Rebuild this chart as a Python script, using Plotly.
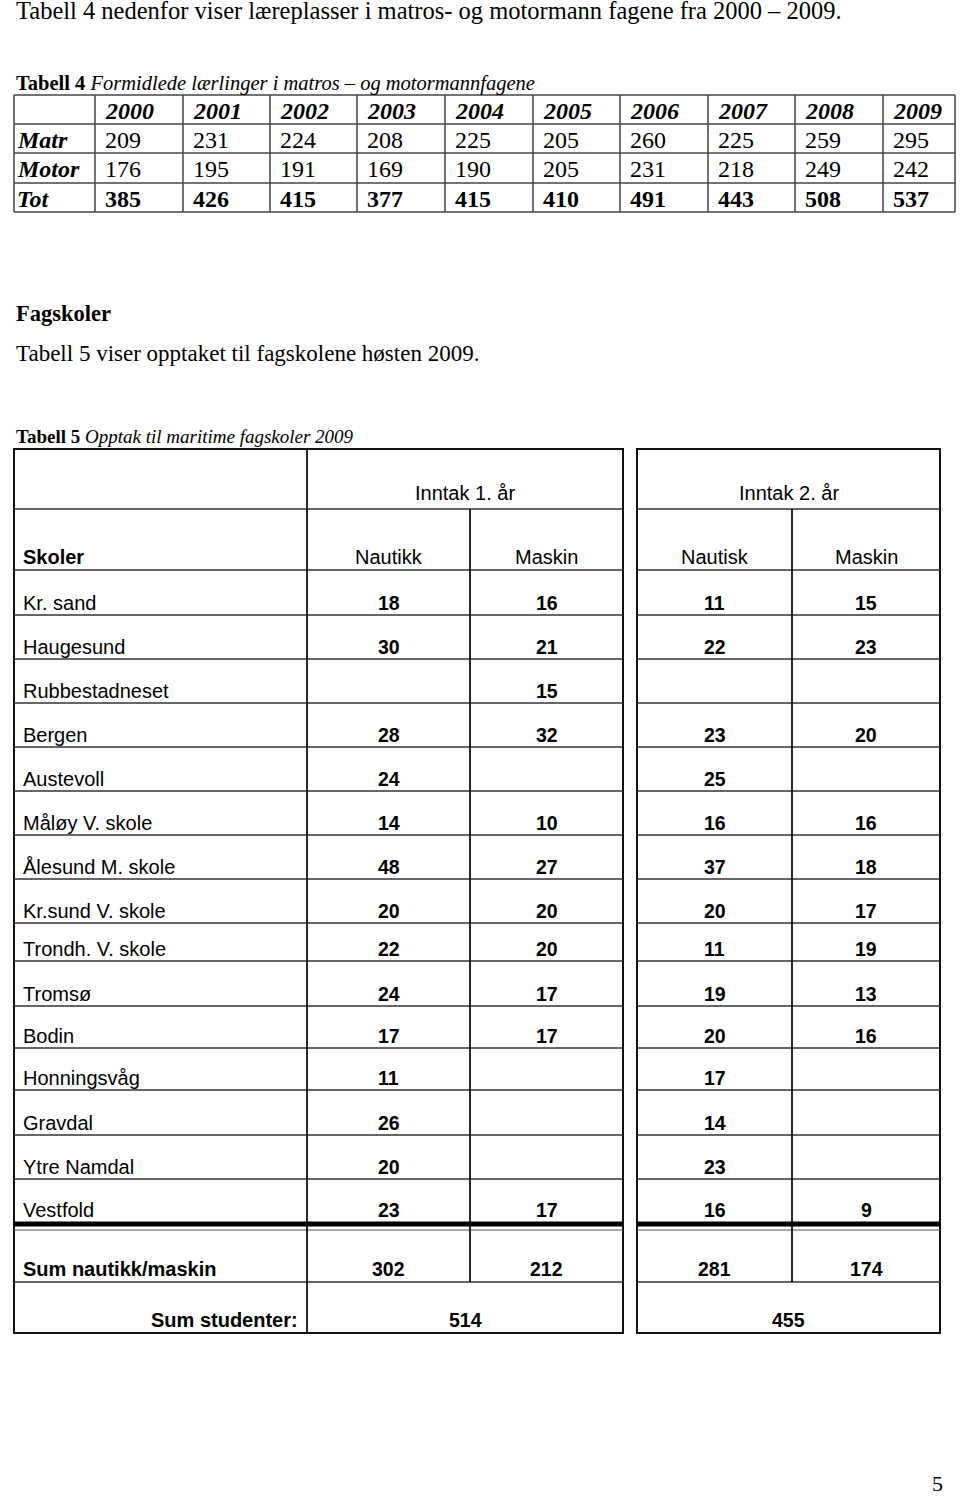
import plotly.graph_objects as go

# ---- Tabell 4: formidlede lærlinger ----
years = ["2000", "2001", "2002", "2003", "2004", "2005", "2006", "2007", "2008", "2009"]
t4_labels = ["Matr", "Motor", "Tot"]
matr = [209, 231, 224, 208, 225, 205, 260, 225, 259, 295]
motor = [176, 195, 191, 169, 190, 205, 231, 218, 249, 242]
tot = [385, 426, 415, 377, 415, 410, 491, 443, 508, 537]

# ---- Tabell 5: opptak til maritime fagskoler 2009 ----
schools = ["Kr. sand", "Haugesund", "Rubbestadneset", "Bergen", "Austevoll",
           "Måløy V. skole", "Ålesund M. skole", "Kr.sund V. skole", "Trondh. V. skole",
           "Tromsø", "Bodin", "Honningsvåg", "Gravdal", "Ytre Namdal", "Vestfold"]
nautikk_1 = [18, 30, None, 28, 24, 14, 48, 20, 22, 24, 17, 11, 26, 20, 23]
maskin_1 = [16, 21, 15, 32, None, 10, 27, 20, 20, 17, 17, None, None, None, 17]
nautisk_2 = [11, 22, None, 23, 25, 16, 37, 20, 11, 19, 20, 17, 14, 23, 16]
maskin_2 = [15, 23, None, 20, None, 16, 18, 17, 19, 13, 16, None, None, None, 9]
sum_1 = [302, 212]
sum_2 = [281, 174]
sum_students = [514, 455]

SERIF = "Liberation Serif, Times New Roman, serif"
SANS = "Liberation Sans, Arial, sans-serif"

# layout geometry (page pixels)
t4_x = [14, 95, 183, 270, 357, 445, 533, 620, 708, 795, 883, 955]
t4_y = [95, 124, 153, 183, 212]
L = [14, 307, 470, 623]          # left box columns
R = [637, 792, 940]              # right box columns
t5_top, t5_h1, t5_h2 = 449, 509, 570
body_y = [570, 615, 659, 703, 747, 791, 835, 879, 923, 961, 1006, 1048, 1090, 1135, 1179, 1224]
sum_top, sum_mid, t5_bot = 1230, 1282, 1333

shapes = []
annots = []


def line(x0, y0, x1, y1, w=1.5, c="#222"):
    shapes.append(dict(type="line", xref="x", yref="y", x0=x0, y0=y0, x1=x1, y1=y1,
                       line=dict(color=c, width=w)))


def rect(x0, y0, x1, y1, w=2, c="#111"):
    shapes.append(dict(type="rect", xref="x", yref="y", x0=x0, y0=y0, x1=x1, y1=y1,
                       line=dict(color=c, width=w), fillcolor="rgba(0,0,0,0)"))


def text(x, y, s, size, family=SERIF, anchor="left", yanchor="middle"):
    annots.append(dict(x=x, y=y, xref="x", yref="y", text=s, showarrow=False,
                       xanchor=anchor, yanchor=yanchor,
                       font=dict(size=size, family=family, color="black")))


def mid(a, b):
    return (a + b) / 2


# ---- running text ----
text(14, 10, "Tabell 4 nedenfor viser læreplasser i matros- og motormann fagene fra 2000 – 2009.", 24.5)
text(14, 83, "<b>Tabell 4</b> <i>Formidlede lærlinger i matros – og motormannfagene</i>", 20.5)
text(14, 313, "<b>Fagskoler</b>", 22.5)
text(14, 353, "Tabell 5 viser opptaket til fagskolene høsten 2009.", 23)
text(14, 436, "<b>Tabell 5</b> <i>Opptak til maritime fagskoler 2009</i>", 19)
text(937, 1498, "5", 22, anchor="center", yanchor="bottom")

# ---- Tabell 4 grid ----
for x in t4_x:
    line(x, t4_y[0], x, t4_y[-1], 1.5, "#444")
for y in t4_y:
    line(t4_x[0], y, t4_x[-1], y, 1.5, "#444")

for j, yr in enumerate(years):
    text(t4_x[j + 1] + 8, mid(t4_y[0], t4_y[1]) + 1, f"<b><i>{yr}</i></b>", 24)
for i, (lab, vals) in enumerate(zip(t4_labels, [matr, motor, tot])):
    yc = mid(t4_y[i + 1], t4_y[i + 2]) + 1
    text(t4_x[0] + 1, yc, f"<b><i>{lab}</i></b>", 24)
    for j, v in enumerate(vals):
        s = f"<b>{v}</b>" if lab == "Tot" else str(v)
        text(t4_x[j + 1] + 8, yc, s, 24)

# ---- Tabell 5 grid ----
for box in (L, R):
    rect(box[0], t5_top, box[-1], t5_bot, 2, "#111")
    for y in [t5_h1, t5_h2] + body_y[1:-1] + [sum_mid]:
        line(box[0], y, box[-1], y, 1.5, "#333")
    # double rule under last school
    line(box[0], body_y[-1], box[-1], body_y[-1], 5, "#000")
    line(box[0], sum_top, box[-1], sum_top, 1.2, "#555")
    # inner column divider (nautikk / maskin)
    line(box[-2], t5_h1, box[-2], sum_mid, 1.8, "#111")
line(L[1], t5_top, L[1], t5_bot, 1.8, "#111")

FS = 20
NS = 19.5
bottom_off = 12.5
text(mid(L[1], L[3]), t5_h1 - 16, "Inntak 1. år", FS, SANS, "center")
text(mid(R[0], R[2]), t5_h1 - 16, "Inntak 2. år", FS, SANS, "center")
text(L[0] + 7, t5_h2 - 13, "<b>Skoler</b>", FS, SANS)
text(mid(L[1], L[2]), t5_h2 - 13, "Nautikk", FS, SANS, "center")
text(mid(L[2], L[3]), t5_h2 - 13, "Maskin", FS, SANS, "center")
text(mid(R[0], R[1]), t5_h2 - 13, "Nautisk", FS, SANS, "center")
text(mid(R[1], R[2]), t5_h2 - 13, "Maskin", FS, SANS, "center")

cols = [(mid(L[1], L[2]), nautikk_1), (mid(L[2], L[3]), maskin_1),
        (mid(R[0], R[1]), nautisk_2), (mid(R[1], R[2]), maskin_2)]
for i, name in enumerate(schools):
    yb = body_y[i + 1] - bottom_off
    if i == len(schools) - 1:
        yb -= 2
    text(L[0] + 7, yb, name, FS, SANS)
    for xc, vals in cols:
        if vals[i] is not None:
            text(xc, yb, f"<b>{vals[i]}</b>", NS, SANS, "center")

text(L[0] + 7, sum_mid - 13, "<b>Sum nautikk/maskin</b>", FS, SANS)
for xc, v in zip([mid(L[1], L[2]), mid(L[2], L[3])], sum_1):
    text(xc, sum_mid - 13, f"<b>{v}</b>", NS, SANS, "center")
for xc, v in zip([mid(R[0], R[1]), mid(R[1], R[2])], sum_2):
    text(xc, sum_mid - 13, f"<b>{v}</b>", NS, SANS, "center")
text(L[1] - 7, t5_bot - 13, "<b>Sum studenter:</b>", FS, SANS, "right")
text(mid(L[1], L[3]), t5_bot - 13, f"<b>{sum_students[0]}</b>", NS, SANS, "center")
text(mid(R[0], R[2]), t5_bot - 13, f"<b>{sum_students[1]}</b>", NS, SANS, "center")

fig = go.Figure()
fig.update_layout(
    width=960, height=1499,
    margin=dict(l=0, r=0, t=0, b=0),
    paper_bgcolor="white", plot_bgcolor="white",
    xaxis=dict(range=[0, 960], visible=False, fixedrange=True),
    yaxis=dict(range=[1499, 0], visible=False, fixedrange=True),
    showlegend=False,
    shapes=shapes,
    annotations=annots,
)

# the page body has a default 8px margin; remove it so the figure sits at the page corner
fig.write_html("out.html", config={"displayModeBar": False},
               post_script="document.body.style.margin='0px';")
